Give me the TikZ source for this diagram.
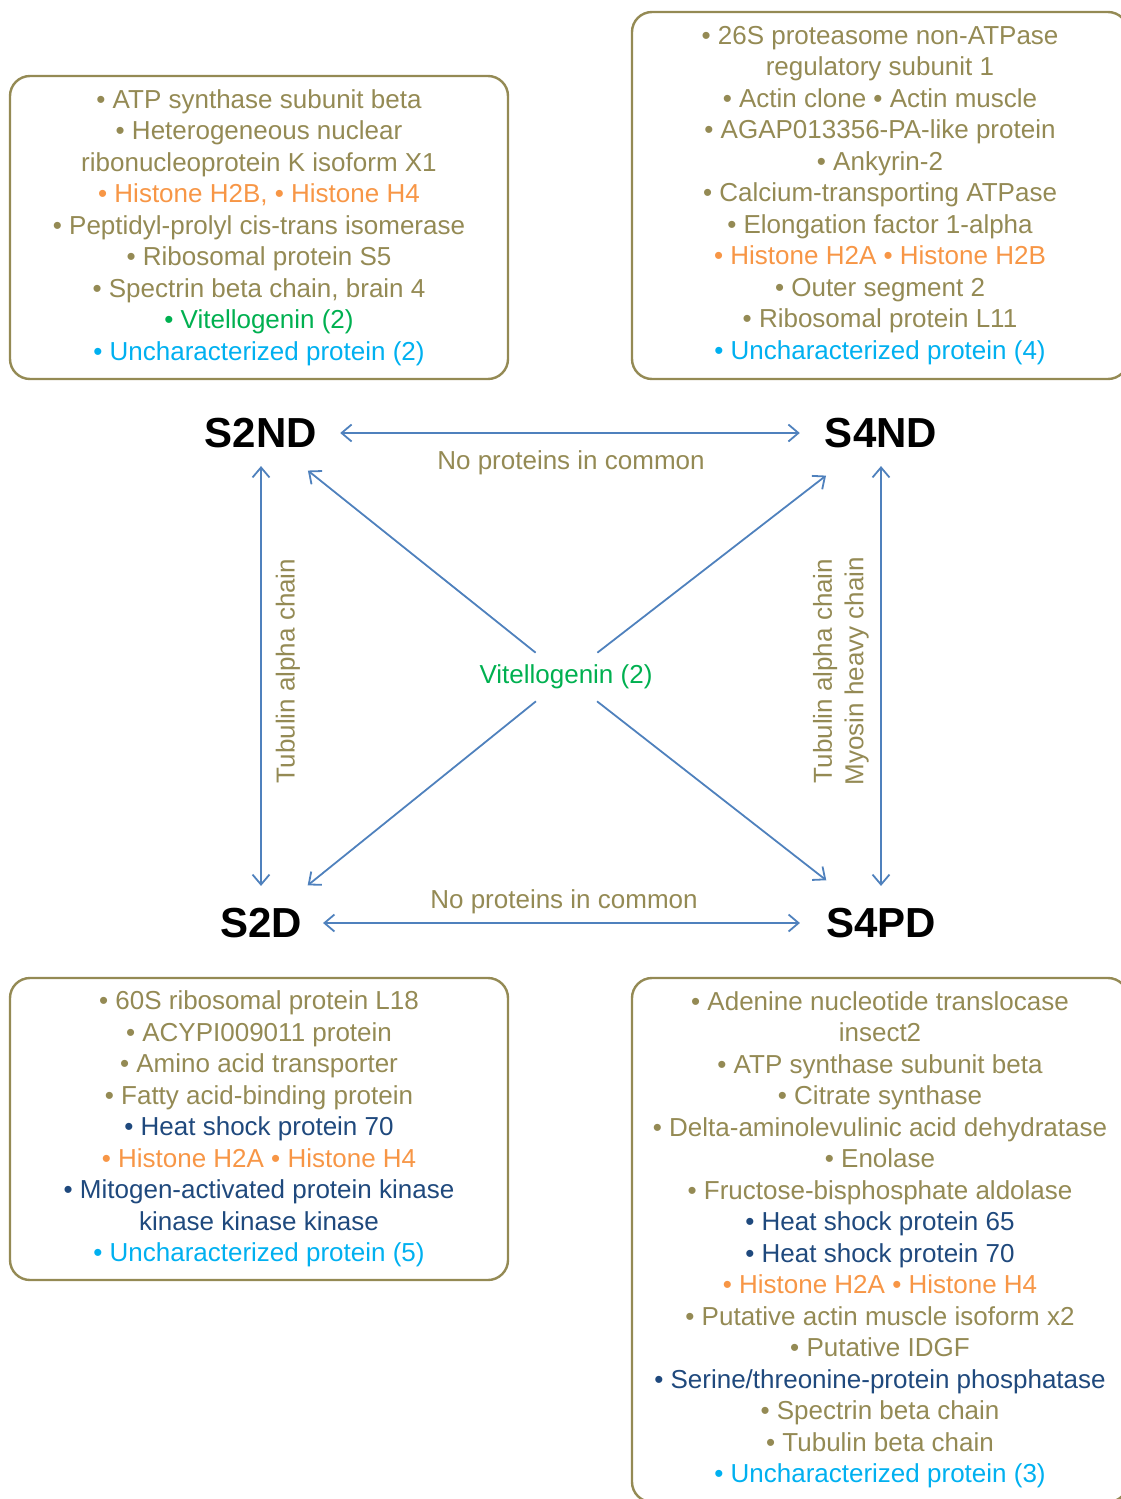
\documentclass[tikz,border=0pt]{standalone}
\usepackage{fontspec}
\setmainfont{Liberation Sans}
\usepackage{tikz}
\usetikzlibrary{arrows.meta}
\usepackage{xcolor}
\definecolor{office_tan}{HTML}{948A54}
\definecolor{office_orange}{HTML}{F79646}
\definecolor{office_green}{HTML}{00B050}
\definecolor{office_cyan}{HTML}{00B0F0}
\definecolor{office_navy}{HTML}{1F497D}
\definecolor{office_blue}{HTML}{4F81BD}
\newcommand{\hist}[1]{\textcolor{office_orange}{#1}}
\newcommand{\vitel}[1]{\textcolor{office_green}{#1}}
\newcommand{\unchar}[1]{\textcolor{office_cyan}{#1}}
\newcommand{\hsp}[1]{\textcolor{office_navy}{#1}}

\begin{document}
\begin{tikzpicture}[
    x=1pt, y=-1pt,
    >={Straight Barb[length=10pt,width=17pt]},
    listbox/.style={draw=office_tan, line width=2.4pt, rounded corners=20pt, align=center,
        text=office_tan, font=\fontsize{26}{31.5}\selectfont, inner sep=0pt,
        execute at begin node={\rule{0pt}{#1}}},
    listbox/.default=23pt,
    stage/.style={font=\fontsize{42}{42}\selectfont\bfseries, inner sep=0pt},
    link/.style={office_blue, line width=1.8pt},
    shared/.style={text=office_tan, font=\fontsize{26}{31.5}\selectfont, inner sep=0pt, align=center}
]
    \useasboundingbox (0,0) rectangle (1121,1499);

    \node[stage] (s2nd) at (261,433) {S2ND};
    \node[stage] (s4nd) at (881,433) {S4ND};
    \node[stage] (s2d) at (261,923) {S2D};
    \node[stage] (s4pd) at (881,923) {S4PD};

    \node[listbox, minimum width=498pt, minimum height=303pt] (s2ndlist) at (259,227.5) {
        • ATP synthase subunit beta\\
        • Heterogeneous nuclear\\
        ribonucleoprotein K isoform X1\\
        \hist{• Histone H2B, • Histone H4}\\
        • Peptidyl-prolyl cis-trans isomerase\\
        • Ribosomal protein S5\\
        • Spectrin beta chain, brain 4\\
        \vitel{• Vitellogenin (2)}\\
        \unchar{• Uncharacterized protein (2)}};
    \node[listbox, minimum width=496pt, minimum height=367pt] (s4ndlist) at (880,195.5) {
        • 26S proteasome non-ATPase\\
        regulatory subunit 1\\
        • Actin clone • Actin muscle\\
        • AGAP013356-PA-like protein\\
        • Ankyrin-2\\
        • Calcium-transporting ATPase\\
        • Elongation factor 1-alpha\\
        \hist{• Histone H2A • Histone H2B}\\
        • Outer segment 2\\
        • Ribosomal protein L11\\
        \unchar{• Uncharacterized protein (4)}};
    \node[listbox=27pt, minimum width=498pt, minimum height=302pt] (s2dlist) at (259,1129) {
        • 60S ribosomal protein L18\\
        • ACYPI009011 protein\\
        • Amino acid transporter\\
        • Fatty acid-binding protein\\
        \hsp{• Heat shock protein 70}\\
        \hist{• Histone H2A • Histone H4}\\
        \hsp{• Mitogen-activated protein kinase}\\
        \hsp{kinase kinase kinase}\\
        \unchar{• Uncharacterized protein (5)}};
    \node[listbox=26pt, minimum width=496pt, minimum height=524pt] (s4pdlist) at (880,1240) {
        • Adenine nucleotide translocase\\
        insect2\\
        • ATP synthase subunit beta\\
        • Citrate synthase\\
        • Delta-aminolevulinic acid dehydratase\\
        • Enolase\\
        • Fructose-bisphosphate aldolase\\
        \hsp{• Heat shock protein 65}\\
        \hsp{• Heat shock protein 70}\\
        \hist{• Histone H2A • Histone H4}\\
        • Putative actin muscle isoform x2\\
        • Putative IDGF\\
        \hsp{• Serine/threonine-protein phosphatase}\\
        • Spectrin beta chain\\
        • Tubulin beta chain\\
        \unchar{• Uncharacterized protein (3)}};

    \node[shared, text=office_green, inner ysep=12pt] (vit) at (566,677) {Vitellogenin (2)};

    \draw[link, <->, shorten <=23pt, shorten >=25pt] (s2nd.east) --
        node[midway, below=17pt, shared] {No proteins in common} (s4nd.west);
    \draw[link, <->, shorten <=21pt, shorten >=26pt] (s2d.east) --
        node[midway, above=8pt, shared] {No proteins in common} (s4pd.west);
    \draw[link, <->, shorten <=18pt, shorten >=22pt] (s2nd.south) --
        node[midway, shared, xshift=27pt, yshift=7pt, rotate=90] {Tubulin alpha chain} (s2d.north);
    \draw[link, <->, shorten <=18pt, shorten >=22pt] (s4nd.south) --
        node[midway, shared, xshift=-40pt, yshift=7pt, rotate=90] {Tubulin alpha chain\\Myosin heavy chain} (s4pd.north);

    \foreach \st/\sh in {s2nd/36, s4nd/45, s2d/36, s4pd/45}
        \draw[link, ->, shorten >=\sh pt] (vit) -- (\st);
\end{tikzpicture}
\end{document}
